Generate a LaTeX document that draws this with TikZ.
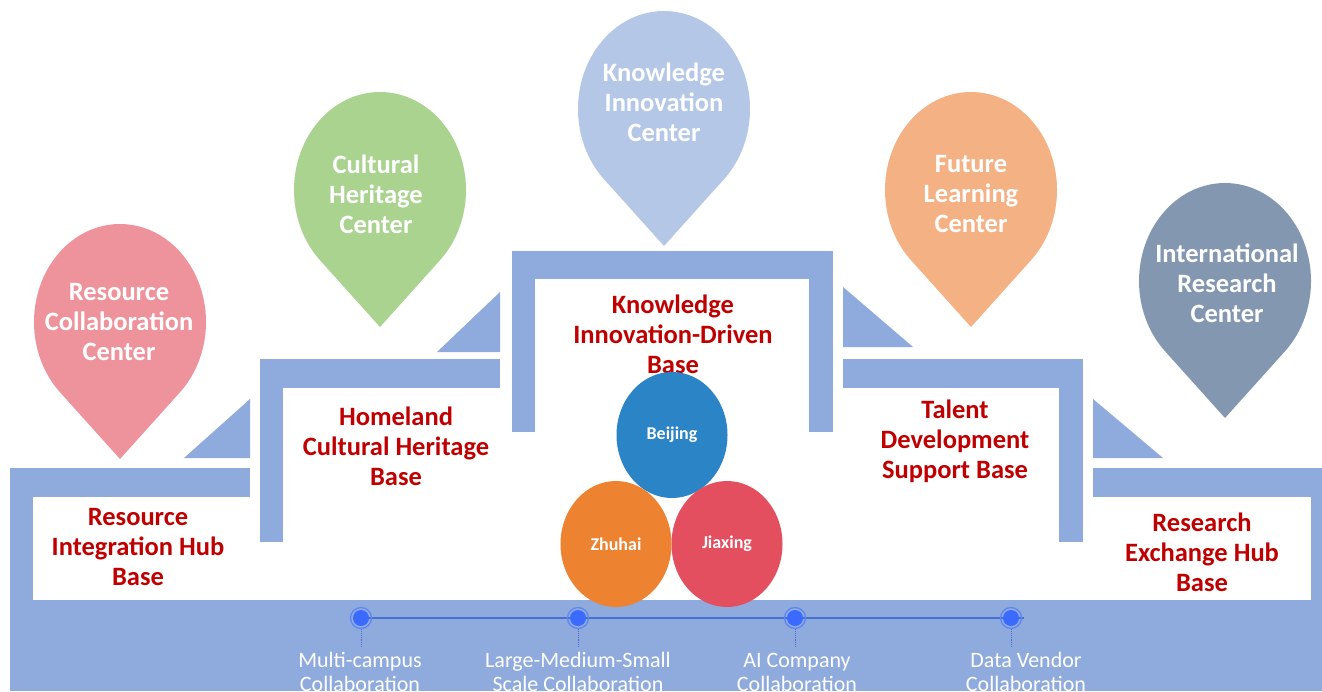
\documentclass[tikz,border=0pt]{standalone}
\usepackage{fontspec}
\setmainfont{Carlito}
\usetikzlibrary{shapes.geometric}

\definecolor{framebl}{HTML}{8FAADC}
\definecolor{pinpink}{HTML}{EE939C}
\definecolor{pingreen}{HTML}{A9D38E}
\definecolor{pinlblue}{HTML}{B4C7E7}
\definecolor{pinorange}{HTML}{F4B183}
\definecolor{pinslate}{HTML}{8497B0}
\definecolor{cityblue}{HTML}{2B84C6}
\definecolor{cityorange}{HTML}{ED8230}
\definecolor{cityred}{HTML}{E34F5F}
\definecolor{basered}{HTML}{C00000}
\definecolor{tlblue}{HTML}{476FD2}
\definecolor{dotblue}{HTML}{3A6AFF}
\definecolor{dotring}{HTML}{5F86F5}

% teardrop marker: #1,#2 centre of the round part, #3 fill colour
\newcommand{\Droplet}[3]{%
  \fill[#3, shift={(#1,#2)}] (0,137) -- (225.67:86pt and 98pt)
    arc[start angle=225.67, end angle=-45.67, x radius=86pt, y radius=98pt] -- cycle;}

\begin{document}
\begin{tikzpicture}[x=1pt, y=-1pt,
  framebar/.style={fill=framebl},
  basetext/.style={text=basered, align=center,
    font=\fontsize{26.5}{30}\selectfont\bfseries},
  droptext/.style={text=white, align=center,
    font=\fontsize{26.5}{30}\selectfont\bfseries},
  city/.style={ellipse, inner sep=0pt, minimum width=111pt, minimum height=126pt,
    text=white, font=\fontsize{18}{20}\selectfont\bfseries},
  linktext/.style={text=white, align=center, font=\fontsize{22}{24}\selectfont},
  dotring/.style={circle, inner sep=0pt, minimum size=21pt, draw=dotring,
    line width=1.3pt},
  dot/.style={circle, inner sep=0pt, minimum size=16pt, fill=dotblue},
  drop/.style={draw=tlblue, densely dotted, line width=0.9pt},
  timeline/.style={draw=tlblue, line width=2.6pt}]

\useasboundingbox (0,0) rectangle (1322,691);
\clip (0,0) rectangle (1322,691);
\fill[white] (0,0) rectangle (1322,691);

% ---- stepped frame -------------------------------------------------
\fill[framebar] (10,468) rectangle (1322,691);
\fill[white] (33,497) rectangle (1311,600);
\fill[white] (250,468) rectangle (1093,497);

% second step (left)
\fill[framebar] (260,359) rectangle (283,542);
\fill[framebar] (260,359) rectangle (500,388);
% central frame
\fill[framebar] (512,251) rectangle (535,432);
\fill[framebar] (512,251) rectangle (833,279);
\fill[framebar] (809,251) rectangle (833,432);
% second step (right)
\fill[framebar] (843,359) rectangle (1083,388);
\fill[framebar] (1059,359) rectangle (1083,542);

% wedges
\fill[framebar] (184,458) -- (250,458) -- (250,399) -- cycle;
\fill[framebar] (437,352) -- (500,352) -- (500,292) -- cycle;
\fill[framebar] (843,287) -- (843,347) -- (913,347) -- cycle;
\fill[framebar] (1093,399) -- (1093,458) -- (1163,458) -- cycle;

% ---- markers -------------------------------------------------------
\Droplet{120}{322}{pinpink}
\Droplet{380}{190}{pingreen}
\Droplet{664}{109}{pinlblue}
\Droplet{971}{190}{pinorange}
\Droplet{1225}{281}{pinslate}

\node[droptext] (cRes)  at (119,322)  {Resource\\Collaboration\\Center};
\node[droptext] (cCul)  at (376,194)  {Cultural\\Heritage\\Center};
\node[droptext] (cKno)  at (664,102)  {Knowledge\\Innovation\\Center};
\node[droptext] (cFut)  at (971,194)  {Future\\Learning\\Center};
\node[droptext] (cInt)  at (1227,283) {International\\Research\\Center};

% ---- base titles ---------------------------------------------------
\node[basetext] (bRes) at (138,547)  {Resource\\Integration Hub\\Base};
\node[basetext] (bHom) at (396,446)  {Homeland\\Cultural Heritage\\Base};
\node[basetext] (bKno) at (673,334)  {Knowledge\\Innovation-Driven\\Base};
\node[basetext] (bTal) at (955,441)  {Talent\\Development\\Support Base};
\node[basetext] (bRex) at (1202,552) {Research\\Exchange Hub\\Base};

% ---- campuses ------------------------------------------------------
\node[city, fill=cityblue]   (bj) at (672,435) {Beijing};
\node[city, fill=cityorange] (zh) at (616,544) {Zhuhai};
\node[city, fill=cityred]    (jx) at (727,544) {Jiaxing};

% ---- collaboration timeline ----------------------------------------
\coordinate (p1) at (361,618);
\coordinate (p2) at (578,618);
\coordinate (p3) at (795,618);
\coordinate (p4) at (1011,618);
\coordinate (pend) at (1024,618);
\draw[timeline] (p1) -- (pend);
\foreach \i in {1,...,4}{
  \draw[drop] (p\i) ++(0,11) -- ++(0,18);
  \node[dotring] (r\i) at (p\i) {};
  \node[dot] (d\i) at (p\i) {};
}

\node[linktext] (l1) at (360,672)  {Multi-campus\\Collaboration};
\node[linktext] (l2) at (578,672)  {Large-Medium-Small\\Scale Collaboration};
\node[linktext] (l3) at (797,672)  {AI Company\\Collaboration};
\node[linktext] (l4) at (1026,672) {Data Vendor\\Collaboration};

\end{tikzpicture}
\end{document}
